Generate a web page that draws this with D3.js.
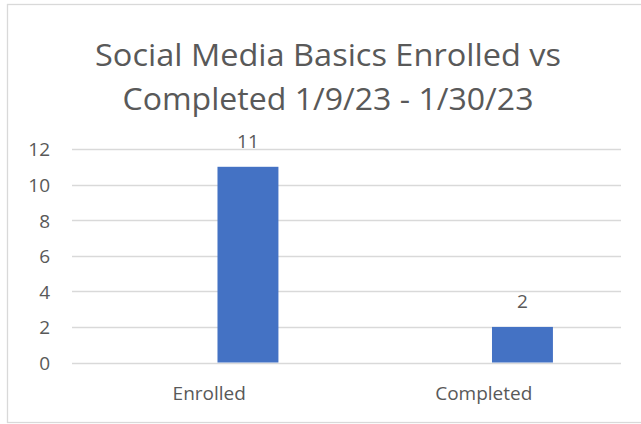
<!DOCTYPE html>
<html>
<head>
<meta charset="utf-8">
<script src="https://cdn.jsdelivr.net/npm/d3@7"></script>
<style>
  body { margin: 0; background: #fff; }
  svg text { font-family: "Open Sans", "Liberation Sans", sans-serif; fill: #595959; }
</style>
</head>
<body>
<svg id="chart" width="641" height="424"></svg>
<script>
var titleLines = ["Social Media Basics Enrolled vs", "Completed 1/9/23 - 1/30/23"];
var categories = ["Enrolled", "Completed"];
var values = [11, 2];
var yTicks = [0, 2, 4, 6, 8, 10, 12];

var svg = d3.select("svg#chart");

// chart area border (right side runs off the image)
svg.append("rect")
    .attr("x", 7.5).attr("y", 4.5)
    .attr("width", 660).attr("height", 418)
    .attr("fill", "none")
    .attr("stroke", "#d9d9d9")
    .attr("stroke-width", 1.3);

var plotLeft = 72, plotRight = 621, plotTop = 149, plotBottom = 362.5;

var y = d3.scaleLinear().domain([0, 12]).range([plotBottom, plotTop]);
var x0 = d3.scaleBand().domain(categories).range([plotLeft, plotRight]);
// second slot of each category holds the bar, first one is empty
var x1 = d3.scaleBand().domain(["empty", "count"])
    .range([x0.bandwidth() * 0.308, x0.bandwidth() * 0.752]);

// title
var titleWidths = [466, 411];
svg.selectAll("text.title")
    .data(titleLines)
    .enter()
    .append("text")
    .attr("class", "title")
    .attr("x", 328)
    .attr("y", function(d, i) { return 66 + i * 44; })
    .attr("text-anchor", "middle")
    .attr("font-size", 31)
    .attr("textLength", function(d, i) { return titleWidths[i]; })
    .attr("lengthAdjust", "spacingAndGlyphs")
    .text(function(d) { return d; });

// gridlines
svg.append("g")
    .selectAll("line")
    .data(yTicks)
    .enter()
    .append("line")
    .attr("x1", plotLeft).attr("x2", plotRight)
    .attr("y1", function(d) { return Math.round(y(d)) + 0.5; })
    .attr("y2", function(d) { return Math.round(y(d)) + 0.5; })
    .attr("stroke", "#d9d9d9")
    .attr("stroke-width", 1.3);

// y axis labels
var yAxis = d3.axisLeft(y).tickValues(yTicks).tickSize(0).tickPadding(0);
var gy = svg.append("g")
    .attr("transform", "translate(50,0)")
    .call(yAxis);
gy.select(".domain").remove();
gy.selectAll("text")
    .attr("font-size", 19)
    .attr("font-family", null)
    .attr("fill", "#595959")
    .attr("dy", "0.36em");

// bars
svg.append("g")
    .selectAll("rect")
    .data(values)
    .enter()
    .append("rect")
    .attr("x", function(d, i) { return x0(categories[i]) + x1("count"); })
    .attr("y", function(d) { return y(d); })
    .attr("width", x1.bandwidth())
    .attr("height", function(d) { return y(0) - y(d); })
    .attr("fill", "#4472c4");

// value labels
svg.append("g")
    .selectAll("text")
    .data(values)
    .enter()
    .append("text")
    .attr("x", function(d, i) { return x0(categories[i]) + x1("count") + x1.bandwidth() / 2; })
    .attr("y", function(d) { return y(d) - 19; })
    .attr("text-anchor", "middle")
    .attr("font-size", 19)
    .text(function(d) { return d; });

// category labels
var xAxis = d3.axisBottom(x0).tickSize(0).tickPadding(0);
var gx = svg.append("g")
    .attr("transform", "translate(0,386)")
    .call(xAxis);
gx.select(".domain").remove();
gx.selectAll("text")
    .attr("font-size", 19)
    .attr("font-family", null)
    .attr("fill", "#595959")
    .attr("dy", "0.71em");
</script>
</body>
</html>
